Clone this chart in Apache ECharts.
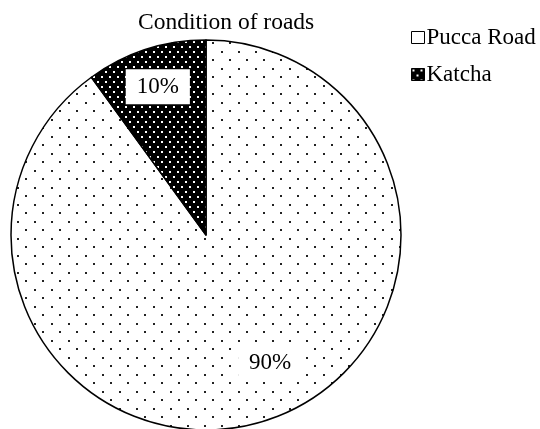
<!DOCTYPE html>
<html>
<head>
<meta charset="utf-8">
<title>Condition of roads</title>
<script src="https://cdn.jsdelivr.net/npm/echarts@6/dist/echarts.min.js"></script>
<style>
  html, body { margin: 0; padding: 0; background: #fff; }
  #main { width: 540px; height: 429px; }
</style>
</head>
<body>
<div id="main"></div>
<script>
// data
const categories = ['Pucca Road', 'Katcha'];
const values = [90, 10];

// pie geometry
const cx = 206;
const cy = 235;
const R = 195;

// label placement (ratio of radius, angle shift in degrees)
const labelRatio = [0.735, 0.8];
const labelShift = [8.6, 0];

// dotted fill, drawn on a small canvas and repeated
function makePattern(w, h, bg, fg, dots, size) {
  let c = document.createElement('canvas');
  c.width = w;
  c.height = h;
  let ctx = c.getContext('2d');
  ctx.fillStyle = bg;
  ctx.fillRect(0, 0, w, h);
  ctx.fillStyle = fg;
  dots.forEach(d => {
    ctx.fillRect(d[0], d[1], size, size);
  });
  return c;
}

const puccaTile = makePattern(17, 17, '#fff', '#222', [[0, 0], [8, 8]], 2);
const katchaTile = makePattern(8, 10, '#000', '#fff', [[1, 1], [5, 6]], 2);

const fills = [
  { image: puccaTile, repeat: 'repeat' },
  { image: katchaTile, repeat: 'repeat' }
];

const font = 'Liberation Serif, Times New Roman, serif';

const chart = echarts.init(document.getElementById('main'));

const option = {
  animation: false,
  title: {
    text: 'Condition of roads',
    left: 133,
    top: 6,
    textStyle: {
      fontFamily: font,
      fontSize: 23.5,
      fontWeight: 'normal',
      color: '#000'
    }
  },
  legend: {
    orient: 'vertical',
    left: 406,
    top: 21,
    icon: 'rect',
    itemWidth: 13,
    itemHeight: 12,
    itemGap: 14,
    data: [
      { name: categories[0], itemStyle: { color: '#fff', borderColor: '#000', borderWidth: 1 } },
      { name: categories[1], itemStyle: { color: fills[1], borderColor: '#000', borderWidth: 1 } }
    ],
    textStyle: {
      fontFamily: font,
      fontSize: 23,
      color: '#000',
      padding: [0, 0, 0, -3]
    }
  },
  series: [{
    type: 'pie',
    center: [cx, cy],
    radius: [0, R],
    startAngle: 90,
    clockwise: true,
    silent: true,
    itemStyle: {
      borderColor: '#000',
      borderWidth: 1.5
    },
    label: {
      show: true,
      position: 'inside',
      formatter: '{d}%',
      fontFamily: font,
      fontSize: 23,
      color: '#000',
      backgroundColor: '#fff',
      padding: [6, 11]
    },
    labelLine: { show: false },
    labelLayout: function (params) {
      let i = params.dataIndex;
      let r = params.labelRect;
      let mx = r.x + r.width / 2;
      let my = r.y + r.height / 2;
      let a = Math.atan2(my - cy, mx - cx) - labelShift[i] * Math.PI / 180;
      let d = labelRatio[i] * R;
      return {
        x: cx + d * Math.cos(a),
        y: cy + d * Math.sin(a),
        align: 'center',
        verticalAlign: 'middle'
      };
    },
    data: categories.map((name, i) => ({
      name: name,
      value: values[i],
      itemStyle: { color: fills[i] }
    }))
  }]
};

chart.setOption(option);
</script>
</body>
</html>
